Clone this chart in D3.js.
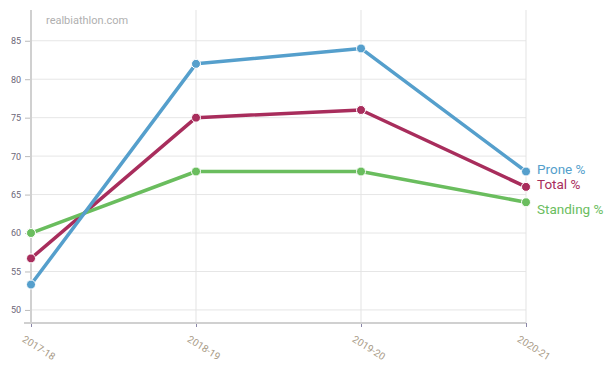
<!DOCTYPE html>
<html><head><meta charset="utf-8">
<script src="https://cdn.jsdelivr.net/npm/d3@7"></script>
<style>body{margin:0;background:#fff;font-family:Roboto,"Open Sans",sans-serif;}</style>
</head><body><svg id="c" width="615" height="366"></svg>
<script>
const seasons = ["2017-18","2018-19","2019-20","2020-21"];
const prone = [53.3, 82, 84, 68];
const total = [56.7, 75, 76, 66];
const standing = [60, 68, 68, 64];
const yTicks = [50,55,60,65,70,75,80,85];
const seriesNames = ["Prone %","Total %","Standing %"];

const svg = d3.select("#c");
const x = d3.scalePoint().domain(seasons).range([31,526]);
const y = d3.scaleLinear().domain([48.3,89]).range([323,10]);

// gridlines
svg.append("g").selectAll("line").data(yTicks).join("line")
  .attr("x1",31).attr("x2",526).attr("y1",d=>y(d)).attr("y2",d=>y(d))
  .attr("stroke","#e6e6e6").attr("stroke-width",1);
svg.append("g").selectAll("line").data(seasons.slice(1)).join("line")
  .attr("x1",d=>x(d)).attr("x2",d=>x(d)).attr("y1",10).attr("y2",323)
  .attr("stroke","#e3e3e3").attr("stroke-width",1);

// y axis
const yAxis = svg.append("g").attr("transform","translate(31,0)")
  .call(d3.axisLeft(y).tickValues(yTicks).tickSize(6).tickPadding(4));
yAxis.select(".domain").remove();
yAxis.selectAll(".tick line").attr("stroke","#bbb");
yAxis.selectAll("text").attr("fill","#6b6678").attr("font-size","9px").attr("font-family","Roboto, sans-serif");
svg.append("line").attr("x1",31).attr("x2",31).attr("y1",10).attr("y2",323).attr("stroke","#d0d0d0").attr("stroke-width",2);

// x axis
const xAxis = svg.append("g").attr("transform","translate(0,323)")
  .call(d3.axisBottom(x).tickSize(4).tickPadding(6));
xAxis.select(".domain").remove();
svg.append("line").attr("x1",24).attr("x2",526).attr("y1",323).attr("y2",323).attr("stroke","#d0d0d0").attr("stroke-width",2);
xAxis.selectAll(".tick line").attr("stroke","#8a86a8");
xAxis.selectAll("text").attr("fill","#a89a86").attr("font-size","10px").attr("font-family","Roboto, sans-serif")
  .attr("text-anchor","start").attr("dy","0.3em")
  .attr("transform","translate(-3,7) rotate(32)");

// watermark
svg.append("text").attr("x",46).attr("y",24).text("realbiathlon.com")
  .attr("fill","#b0b0b0").attr("font-size","11px").attr("font-family","Roboto, sans-serif");

const series = [
  {name:seriesNames[1], vals:total, color:"#a82d5c", labelY:189},
  {name:seriesNames[2], vals:standing, color:"#6abd5e", labelY:214},
  {name:seriesNames[0], vals:prone, color:"#559fcc", labelY:174}
];
const line = d3.line().x((d,i)=>x(seasons[i])).y(d=>y(d));
series.forEach(s=>{
  const g = svg.append("g");
  g.append("path").attr("d",line(s.vals)).attr("fill","none")
    .attr("stroke",s.color).attr("stroke-width",3.5).attr("stroke-linejoin","round");
  g.selectAll("circle").data(s.vals).join("circle")
    .attr("cx",(d,i)=>x(seasons[i])).attr("cy",d=>y(d)).attr("r",4.5)
    .attr("fill",s.color).attr("stroke","#fff").attr("stroke-width",1);
  g.append("text").attr("x",537).attr("y",s.labelY).text(s.name)
    .attr("fill",s.color).attr("font-size","13.5px").attr("font-family","Roboto, sans-serif");
});
</script></body></html>
